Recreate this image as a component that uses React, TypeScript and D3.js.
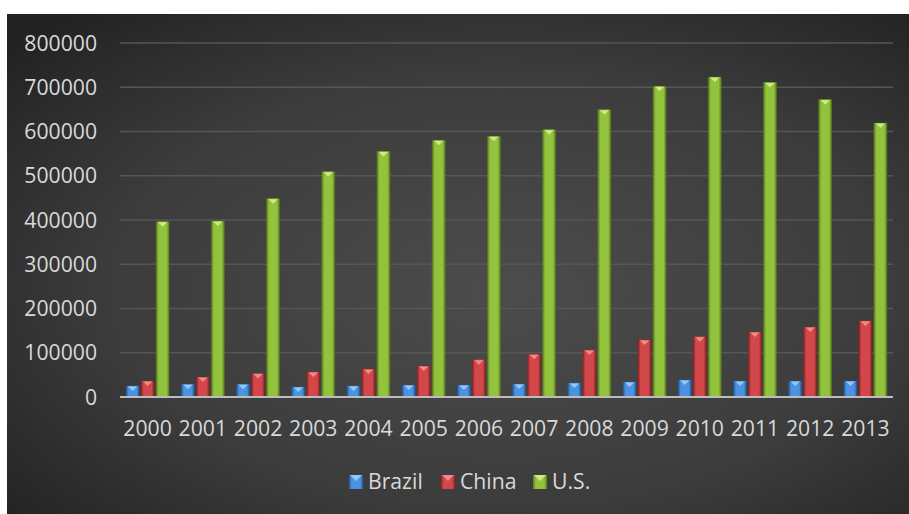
import React from "react";
import * as d3 from "d3";

const years = ["2000","2001","2002","2003","2004","2005","2006","2007","2008","2009","2010","2011","2012","2013"];
const brazil = [25000, 29000, 29000, 22600, 25000, 27000, 27000, 29400, 31600, 34000, 38500, 36000, 36000, 36000];
const china = [36000, 45000, 53000, 56600, 63000, 70000, 84000, 96500, 106000, 129000, 136000, 147000, 158000, 172000];
const us = [396000, 397500, 448000, 509000, 555000, 580000, 589000, 604000, 649000, 702000, 723000, 711000, 672000, 619000];
const seriesNames = ["Brazil", "China", "U.S."];
const yTicks = [0, 100000, 200000, 300000, 400000, 500000, 600000, 700000, 800000];

const W = 909, H = 514;
const FONT = "'Open Sans', sans-serif";
const TEXT = "#d9d9d9";
const FS = 21.2;

const palettes = [
  { id: "gBlue", edge: "#245a9c", mid: "#4b93e0", tri: "#93c8f7" },
  { id: "gRed", edge: "#8e2224", mid: "#d2484a", tri: "#f28a88" },
  { id: "gGreen", edge: "#5a7d1e", mid: "#93c23c", tri: "#cdeb84" },
];

export default function App() {
  const x = d3.scaleBand<string>().domain(years).range([120, 893]);
  const inner = d3.scaleBand<string>().domain(seriesNames).range([0, x.bandwidth()]).paddingInner(0.133).paddingOuter(0.407);
  const y = d3.scaleLinear().domain([0, 800000]).range([397, 43]);
  const data = [brazil, china, us];

  return (
    <svg width={W} height={H} style={{ position: "absolute", left: 0, top: 0 }}>
      <defs>
        <radialGradient id="bg" cx="0.55" cy="0.55" r="0.72">
          <stop offset="0" stopColor="#4c4c4c" />
          <stop offset="0.6" stopColor="#3c3c3c" />
          <stop offset="1" stopColor="#232323" />
        </radialGradient>
        {palettes.map(p => (
          <linearGradient key={p.id} id={p.id} x1="0" x2="1" y1="0" y2="0">
            <stop offset="0" stopColor={p.edge} />
            <stop offset="0.2" stopColor={p.mid} />
            <stop offset="0.8" stopColor={p.mid} />
            <stop offset="1" stopColor={p.edge} />
          </linearGradient>
        ))}
      </defs>
      <rect x={7} y={14} width={W - 7} height={H - 14} fill="url(#bg)" />
      {yTicks.filter(t => t > 0).map(t => (
        <line key={t} x1={120} x2={893} y1={y(t)} y2={y(t)} stroke="#565656" strokeWidth={1.5} />
      ))}
      {yTicks.map(t => (
        <text key={"l" + t} x={97} y={y(t)} dy="0.36em" textAnchor="end" fill={TEXT} fontFamily={FONT} fontSize={FS}>{t}</text>
      ))}
      {data.map((vals, si) => {
        const p = palettes[si];
        return vals.map((v, i) => {
          const bx = (x(years[i]) as number) + (inner(seriesNames[si]) as number);
          const bw = inner.bandwidth();
          const top = y(v);
          const h = y(0) - top;
          return (
            <g key={si + "-" + i}>
              <rect x={bx} y={top} width={bw} height={h} fill={`url(#${p.id})`} />
              <path d={`M${bx + 1.5},${top} L${bx + bw - 1.5},${top} L${bx + bw / 2},${top + Math.min(5, h)} Z`} fill={p.tri} />
              <rect x={bx} y={top} width={bw} height={h} fill="none" stroke={p.edge} strokeOpacity={0.6} strokeWidth={0.8} />
            </g>
          );
        });
      })}
      <line x1={120} x2={893} y1={y(0)} y2={y(0)} stroke="#bdbdbd" strokeWidth={2} />
      {years.map(yr => (
        <text key={yr} x={(x(yr) as number) + x.bandwidth() / 2} y={436} textAnchor="middle" fill={TEXT} fontFamily={FONT} fontSize={FS}>{yr}</text>
      ))}
      {seriesNames.map((s, i) => {
        const lx = [349, 441, 533][i];
        const p = palettes[i];
        return (
          <g key={s}>
            <rect x={lx} y={475} width={14} height={14} fill={`url(#${p.id})`} />
            <path d={`M${lx + 1},${475} L${lx + 13},${475} L${lx + 7},${481} Z`} fill={p.tri} />
            <text x={lx + 19} y={489} fill={TEXT} fontFamily={FONT} fontSize={FS}>{s}</text>
          </g>
        );
      })}
    </svg>
  );
}
